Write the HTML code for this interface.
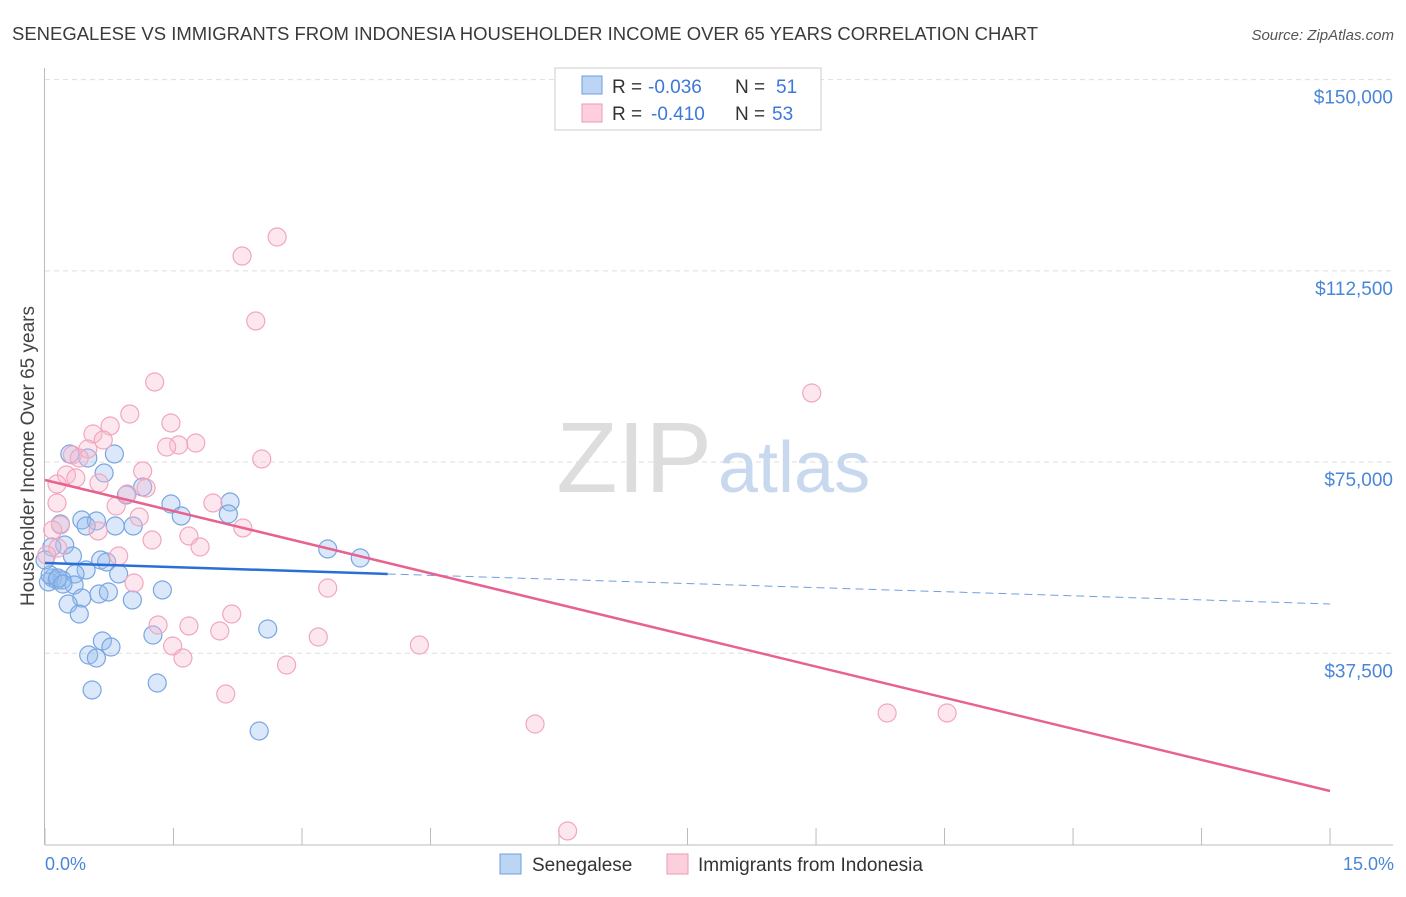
<!DOCTYPE html>
<html><head><meta charset="utf-8"><style>
body{margin:0;background:#fff;font-family:"Liberation Sans",sans-serif}
svg text{font-family:"Liberation Sans",sans-serif}
</style></head><body>
<svg width="1406" height="892" viewBox="0 0 1406 892">
<text x="12" y="40" font-size="18" fill="#3a3a3a" textLength="1026" lengthAdjust="spacingAndGlyphs">SENEGALESE VS IMMIGRANTS FROM INDONESIA HOUSEHOLDER INCOME OVER 65 YEARS CORRELATION CHART</text>
<text x="1394" y="40" font-size="15" fill="#555" font-style="italic" text-anchor="end">Source: ZipAtlas.com</text>
<g id="grid"></g>
<text x="712" y="492" font-size="100" font-family="Liberation Serif" fill="#ddd" text-anchor="end">ZIP</text>
<text x="718" y="492" font-size="72" fill="#c8d8ee">atlas</text>
<g id="axes"></g>
<g id="pts"></g>
<g id="lines"></g>
<text transform="translate(34,456) rotate(-90)" font-size="19" fill="#444" text-anchor="middle">Householder Income Over 65 years</text>
<text x="45" y="870" font-size="18" fill="#4a86d8">0.0%</text>
<text x="1394" y="870" font-size="18" fill="#4a86d8" text-anchor="end">15.0%</text>
<g>
<rect x="555" y="68" width="266" height="62" fill="#fff" stroke="#ccc"/>
<rect x="582" y="76" width="20" height="18" fill="#bcd5f5" stroke="#6c9fe0"/>
<rect x="582" y="104" width="20" height="18" fill="#fccfdd" stroke="#ee9ab5"/>
<text y="93" font-size="19" fill="#333"><tspan x="612">R =</tspan><tspan x="648" fill="#3c78d8">-0.036</tspan><tspan x="735">N =</tspan><tspan x="776" fill="#3c78d8">51</tspan></text>
<text y="120" font-size="19" fill="#333"><tspan x="612">R =</tspan><tspan x="651" fill="#3c78d8">-0.410</tspan><tspan x="735">N =</tspan><tspan x="772" fill="#3c78d8">53</tspan></text>
</g>
<g>
<rect x="500" y="854" width="21" height="20" fill="#bcd5f5" stroke="#6c9fe0"/>
<text x="532" y="871" font-size="19" fill="#333">Senegalese</text>
<rect x="667" y="854" width="21" height="20" fill="#fccfdd" stroke="#ee9ab5"/>
<text x="698" y="871" font-size="19" fill="#333">Immigrants from Indonesia</text>
</g>
</svg>
<script>
const yTicks=[37500,75000,112500,150000];
const yTickLabels=["$37,500","$75,000","$112,500","$150,000"];
const blueX=[0.29,0.50,0.81,0.69,0.95,1.14,1.47,1.59,2.16,2.14,0.43,0.60,0.48,0.82,1.03,0.18,0.23,0.08,0.32,0.65,0.72,0.48,0.86,0.35,0.09,0.14,0.04,0.20,0.06,0.34,0.43,0.63,0.74,1.02,1.37,0.27,0.40,0.67,0.77,0.51,0.60,1.26,2.60,0.55,1.31,2.50,3.30,3.68,0.00,0.15,0.21];
const blueY=[76580,75790,76580,72850,68540,70110,66770,64420,67160,64810,63630,63440,62460,62460,62460,62850,58730,58340,56580,55790,55400,53830,53050,53050,52260,51870,51480,51870,52850,50890,48340,49120,49520,47950,49910,47160,45200,39910,38730,37160,36570,41080,42260,30300,31670,22260,57950,56180,55790,52260,51080];
const pinkX=[2.71,2.30,2.46,1.28,8.95,0.99,0.76,1.47,0.56,0.68,1.76,1.56,1.42,0.50,0.32,0.40,2.53,1.14,0.25,0.36,0.14,0.63,1.18,0.96,0.14,1.96,0.83,1.10,0.18,0.09,2.31,0.62,1.68,1.25,1.81,0.15,0.02,0.86,1.04,3.30,2.18,1.32,1.68,2.04,1.49,1.61,3.19,4.37,2.82,2.11,5.72,9.83,10.53,6.10];
const pinkY=[119130,115400,102660,90700,88540,84420,82070,82660,80500,79320,78730,78340,77950,77560,76380,75790,75600,73240,72460,71870,70690,70890,69910,68730,66970,66970,66380,64220,62650,61670,62070,61480,60500,59710,58340,58140,56770,56580,51280,50300,45200,43040,42850,41870,38930,36570,40690,39120,35200,29510,23630,25790,25790,2650];
const blueTrend=[55200,47160]; const blueSolidEnd=4.0;
const pinkTrend=[71480,10490];
const X=v=>45+v*85.67, Y=v=>844.5-v/196.1;
const NS="http://www.w3.org/2000/svg";
function mk(t,a,p){const e=document.createElementNS(NS,t);for(const k in a)e.setAttribute(k,a[k]);p.appendChild(e);return e;}
const grid=document.getElementById('grid'),axes=document.getElementById('axes');
yTicks.forEach((t,i)=>{
 const g=mk('line',{x1:45,x2:1393,y1:Y(t),y2:Y(t),stroke:'#ddd','stroke-dasharray':'5,4'},grid);
 
 
 const l=mk('text',{x:1393,y:Y(t)+24,'font-size':19,fill:'#4a86d8','text-anchor':'end'},axes);
 l.textContent=yTickLabels[i];
 
 
});
mk('line',{x1:44.5,x2:44.5,y1:68,y2:845,stroke:'#bbb'},axes);
mk('line',{x1:45,x2:1393,y1:845,y2:845,stroke:'#bbb'},axes);
for(let i=0;i<=10;i++){const tk=mk('line',{x1:X(i*1.5),x2:X(i*1.5),y1:828,y2:845,stroke:'#bbb'},axes);
 
 }
const pts=document.getElementById('pts');
blueX.forEach((x,i)=>{const c=mk('circle',{cx:X(x),cy:Y(blueY[i]),r:9,fill:'rgba(150,188,238,0.35)',stroke:'#79a6e2','stroke-width':1.2},pts);
 
 });
pinkX.forEach((x,i)=>{const c=mk('circle',{cx:X(x),cy:Y(pinkY[i]),r:9,fill:'rgba(248,185,205,0.35)',stroke:'#f2a6be','stroke-width':1.2},pts);
 
 });
const ln=document.getElementById('lines');
const by=x=>blueTrend[0]+(blueTrend[1]-blueTrend[0])*x/15;
const b1=mk('line',{x1:X(0),y1:Y(by(0)),x2:X(blueSolidEnd),y2:Y(by(blueSolidEnd)),stroke:'#2a6fd6','stroke-width':2.5},ln);


const b2=mk('line',{x1:X(blueSolidEnd),y1:Y(by(blueSolidEnd)),x2:X(15),y2:Y(by(15)),stroke:'#6f9fe0','stroke-width':1,'stroke-dasharray':'8,5'},ln);


const p1=mk('line',{x1:X(0),y1:Y(pinkTrend[0]),x2:X(15),y2:Y(pinkTrend[1]),stroke:'#e8628f','stroke-width':2.5},ln);


</script>
</body></html>
